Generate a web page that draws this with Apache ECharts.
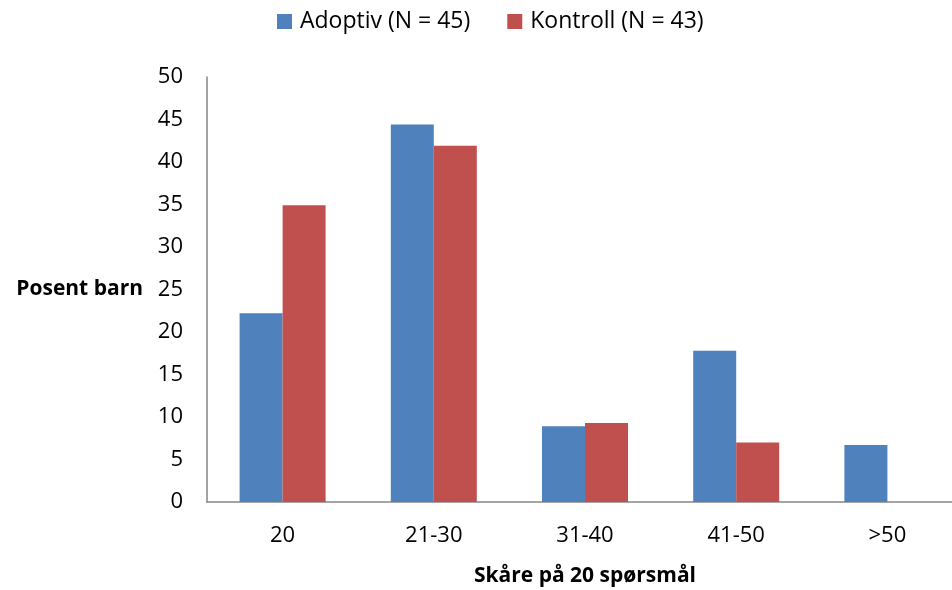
<!DOCTYPE html>
<html><head><meta charset="utf-8">
<script src="https://cdn.jsdelivr.net/npm/echarts@6/dist/echarts.min.js"></script>
<style>html,body{margin:0;padding:0;background:#fff}#c{width:952px;height:590px}</style>
</head><body><div id="c"></div>
<script>
var categories = ['20', '21-30', '31-40', '41-50', '>50'];
var adoptiv = [22.2, 44.4, 8.9, 17.8, 6.7];
var kontroll = [34.9, 41.9, 9.3, 7.0, 0];
var seriesNames = ['Adoptiv (N = 45)', 'Kontroll (N = 43)'];
var yTicks = {min: 0, max: 50, interval: 5};
var F = '"Open Sans", sans-serif';
var chart = echarts.init(document.getElementById('c'));
chart.setOption({
  animation: false,
  legend: {
    top: 5, left: 272, itemWidth: 15, itemHeight: 15, itemGap: 37, icon: 'rect',
    textStyle: {fontFamily: F, fontSize: 23, color: '#000', padding: [0, 0, 0, 3]},
    data: seriesNames
  },
  grid: {left: 207, top: 77, width: 756, height: 425, containLabel: false, outerBoundsMode: 'none'},
  xAxis: {
    type: 'category', data: categories,
    axisLine: {lineStyle: {color: '#868686', width: 1.5}},
    axisTick: {show: false},
    axisLabel: {fontFamily: F, fontSize: 22, color: '#000', margin: 23},
    name: 'Skåre på 20 spørsmål', nameLocation: 'middle', nameGap: 64,
    nameTextStyle: {fontFamily: F, fontSize: 21, fontWeight: 'bold', color: '#000'}
  },
  yAxis: {
    type: 'value', min: yTicks.min, max: yTicks.max, interval: yTicks.interval,
    axisLine: {show: true, lineStyle: {color: '#868686', width: 1.5}},
    axisTick: {show: false},
    splitLine: {show: false},
    axisLabel: {fontFamily: F, fontSize: 22, color: '#000', margin: 24},
    name: 'Posent barn', nameLocation: 'middle', nameRotate: 0, nameGap: 64,
    nameTextStyle: {fontFamily: F, fontSize: 21, fontWeight: 'bold', color: '#000'}
  },
  series: [
    {name: seriesNames[0], type: 'bar', data: adoptiv, barWidth: 43, barGap: '0%',
     itemStyle: {color: '#4F81BD'}},
    {name: seriesNames[1], type: 'bar', data: kontroll, barWidth: 43, barGap: '0%',
     itemStyle: {color: '#C0504D'}}
  ]
});
</script></body></html>
